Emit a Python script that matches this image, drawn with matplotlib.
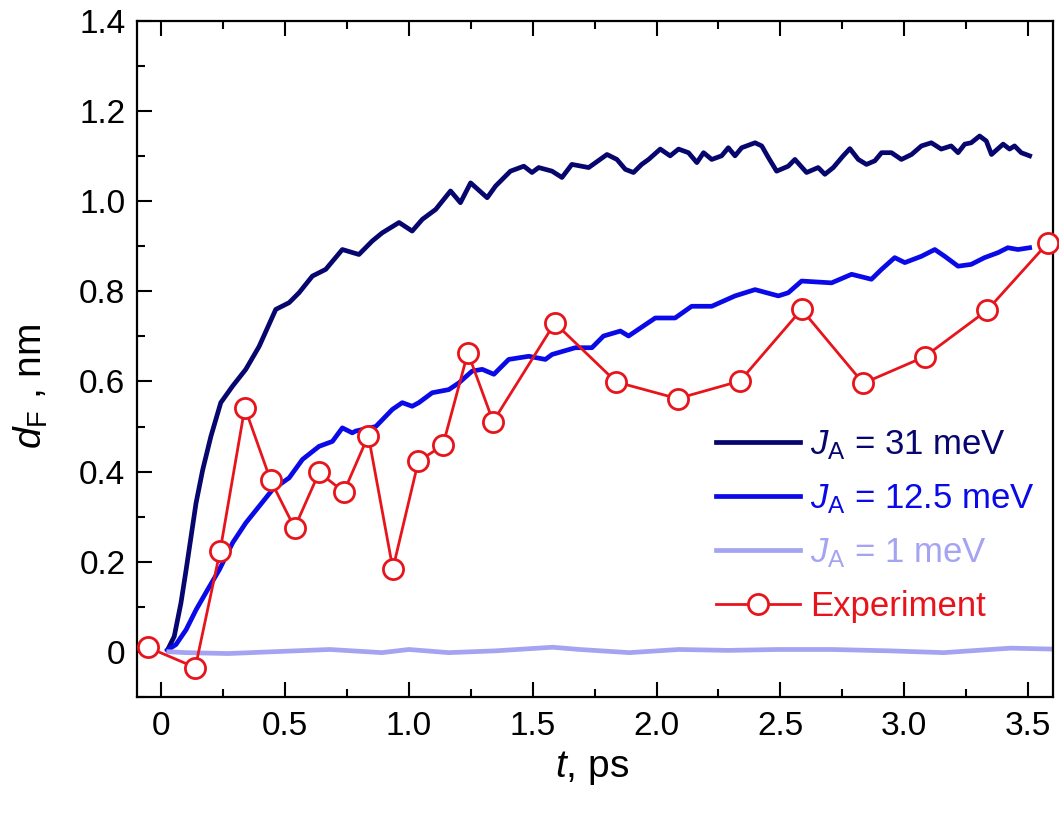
import matplotlib
matplotlib.use("Agg")
import matplotlib.pyplot as plt
from matplotlib.ticker import MultipleLocator

plt.rcParams['font.family'] = ['Liberation Sans', 'DejaVu Sans']
plt.rcParams['mathtext.fontset'] = 'custom'
plt.rcParams['mathtext.rm'] = 'Liberation Sans'
plt.rcParams['mathtext.it'] = 'Liberation Sans:italic'

# J_A = 31 meV
t_31 = [0.025, 0.052, 0.079, 0.10, 0.12, 0.14, 0.167, 0.20, 0.24, 0.288, 0.341, 0.395,
        0.462, 0.516, 0.556, 0.610, 0.664, 0.731, 0.798, 0.852, 0.892, 0.96, 1.013, 1.054,
        1.108, 1.168, 1.208, 1.249, 1.316, 1.35, 1.41, 1.464, 1.497, 1.524, 1.578, 1.618,
        1.658, 1.726, 1.80, 1.84, 1.874, 1.907, 1.94, 1.968, 2.015, 2.055, 2.089, 2.129,
        2.163, 2.19, 2.223, 2.263, 2.29, 2.317, 2.344, 2.398, 2.425, 2.452, 2.485, 2.532,
        2.559, 2.606, 2.653, 2.68, 2.714, 2.754, 2.781, 2.815, 2.848, 2.882, 2.909, 2.949,
        2.989, 3.03, 3.07, 3.11, 3.15, 3.19, 3.218, 3.245, 3.271, 3.305, 3.332, 3.353,
        3.40, 3.426, 3.446, 3.473, 3.507]
d_31 = [0.004, 0.034, 0.108, 0.182, 0.256, 0.330, 0.404, 0.478, 0.553, 0.590, 0.627, 0.678,
        0.760, 0.775, 0.797, 0.834, 0.849, 0.893, 0.882, 0.912, 0.930, 0.953, 0.934, 0.960,
        0.982, 1.023, 0.997, 1.041, 1.008, 1.034, 1.067, 1.078, 1.064, 1.075, 1.067, 1.053,
        1.082, 1.075, 1.104, 1.093, 1.071, 1.064, 1.082, 1.093, 1.116, 1.101, 1.116, 1.108,
        1.086, 1.108, 1.093, 1.101, 1.119, 1.101, 1.119, 1.130, 1.123, 1.097, 1.067, 1.078,
        1.093, 1.064, 1.075, 1.060, 1.075, 1.101, 1.117, 1.093, 1.082, 1.090, 1.108, 1.108,
        1.093, 1.104, 1.123, 1.130, 1.116, 1.123, 1.108, 1.127, 1.130, 1.145, 1.134, 1.104,
        1.127, 1.116, 1.123, 1.108, 1.101]

# J_A = 12.5 meV
t_125 = [0.025, 0.059, 0.10, 0.14, 0.187, 0.234, 0.288, 0.341, 0.395, 0.449, 0.516, 0.57,
         0.637, 0.691, 0.731, 0.771, 0.785, 0.866, 0.933, 0.973, 1.013, 1.04, 1.094, 1.161,
         1.202, 1.255, 1.296, 1.343, 1.403, 1.484, 1.551, 1.578, 1.672, 1.739, 1.786, 1.854,
         1.887, 1.995, 2.075, 2.142, 2.223, 2.317, 2.398, 2.492, 2.532, 2.586, 2.707, 2.788,
         2.868, 2.909, 2.962, 3.003, 3.07, 3.124, 3.164, 3.218, 3.271, 3.325, 3.379, 3.419,
         3.46, 3.507]
d_125 = [0.004, 0.016, 0.049, 0.093, 0.138, 0.182, 0.242, 0.286, 0.323, 0.360, 0.386, 0.427,
         0.456, 0.467, 0.497, 0.486, 0.490, 0.500, 0.538, 0.553, 0.545, 0.553, 0.575, 0.582,
         0.597, 0.623, 0.627, 0.616, 0.649, 0.656, 0.649, 0.660, 0.675, 0.675, 0.701, 0.712,
         0.701, 0.741, 0.741, 0.767, 0.767, 0.790, 0.804, 0.790, 0.797, 0.823, 0.819, 0.838,
         0.827, 0.849, 0.875, 0.864, 0.878, 0.893, 0.878, 0.856, 0.860, 0.875, 0.886, 0.897,
         0.893, 0.897]

# J_A = 1 meV
t_1 = [0.03, 0.10, 0.27, 0.45, 0.68, 0.89, 1.0, 1.16, 1.35, 1.58, 1.69, 1.89, 2.09,
       2.29, 2.49, 2.71, 2.94, 3.16, 3.43, 3.59]
d_1 = [0.0, -0.002, -0.004, 0.0, 0.005, -0.002, 0.005, -0.002, 0.002, 0.010, 0.005,
       -0.002, 0.005, 0.003, 0.005, 0.005, 0.002, -0.002, 0.008, 0.006]

# Experiment
t_exp = [-0.055, 0.137, 0.237, 0.337, 0.441, 0.538, 0.637, 0.737, 0.836, 0.935, 1.038,
         1.137, 1.238, 1.340, 1.589, 1.837, 2.085, 2.337, 2.586, 2.835, 3.083, 3.335, 3.581]
d_exp = [0.010, -0.035, 0.223, 0.542, 0.381, 0.275, 0.398, 0.355, 0.480, 0.184, 0.423,
         0.458, 0.664, 0.511, 0.730, 0.599, 0.562, 0.601, 0.760, 0.596, 0.655, 0.758, 0.908]

labels = ['$J_\\mathrm{A}$ = 31 meV', '$J_\\mathrm{A}$ = 12.5 meV',
          '$J_\\mathrm{A}$ = 1 meV', 'Experiment']
x_ticks = [0, 0.5, 1.0, 1.5, 2.0, 2.5, 3.0, 3.5]
x_tick_labels = ['0', '0.5', '1.0', '1.5', '2.0', '2.5', '3.0', '3.5']
y_ticks = [0, 0.2, 0.4, 0.6, 0.8, 1.0, 1.2, 1.4]
y_tick_labels = ['0', '0.2', '0.4', '0.6', '0.8', '1.0', '1.2', '1.4']

fig = plt.figure(figsize=(10.59, 8.14), dpi=100)
ax = fig.add_axes([0.129, 0.144, 0.865, 0.830])

ax.plot(t_31, d_31, color='#06066e', lw=3.4, label=labels[0])
ax.plot(t_125, d_125, color='#0a0ae8', lw=3.4, label=labels[1])
ax.plot(t_1, d_1, color='#a4a4f2', lw=3.4, label=labels[2])
ax.plot(t_exp, d_exp, color='#e8141c', lw=2.0, marker='o', ms=14.5,
        mfc='white', mec='#e8141c', mew=2.0, label=labels[3], clip_on=False, zorder=5)

ax.set_xlim(-0.1, 3.6)
ax.set_ylim(-0.1, 1.4)
ax.set_xticks(x_ticks)
ax.set_xticklabels(x_tick_labels)
ax.set_yticks(y_ticks)
ax.set_yticklabels(y_tick_labels)
ax.xaxis.set_minor_locator(MultipleLocator(0.25))
ax.yaxis.set_minor_locator(MultipleLocator(0.1))
ax.tick_params(which='both', direction='in', top=True, right=False, width=1.5,
               labelsize=24)
ax.tick_params(which='major', length=11)
ax.tick_params(which='minor', length=6)
ax.tick_params(axis='x', pad=10)
ax.tick_params(axis='y', pad=8)
for s in ax.spines.values():
    s.set_linewidth(1.6)

ax.set_xlabel('$t$, ps', fontsize=28)
ax.set_ylabel('$d_\\mathrm{F}$ , nm', fontsize=28)
ax.xaxis.set_label_coords(0.497, -0.078)
ax.yaxis.set_label_coords(-0.095, 0.46)

ax.legend(loc='upper left', bbox_to_anchor=(0.633, 0.397), frameon=False, fontsize=25,
          handlelength=2.4, handletextpad=0.3, labelspacing=0.58, numpoints=1,
          labelcolor='linecolor', borderpad=0, borderaxespad=0)

fig.savefig('out.png', dpi=100)
